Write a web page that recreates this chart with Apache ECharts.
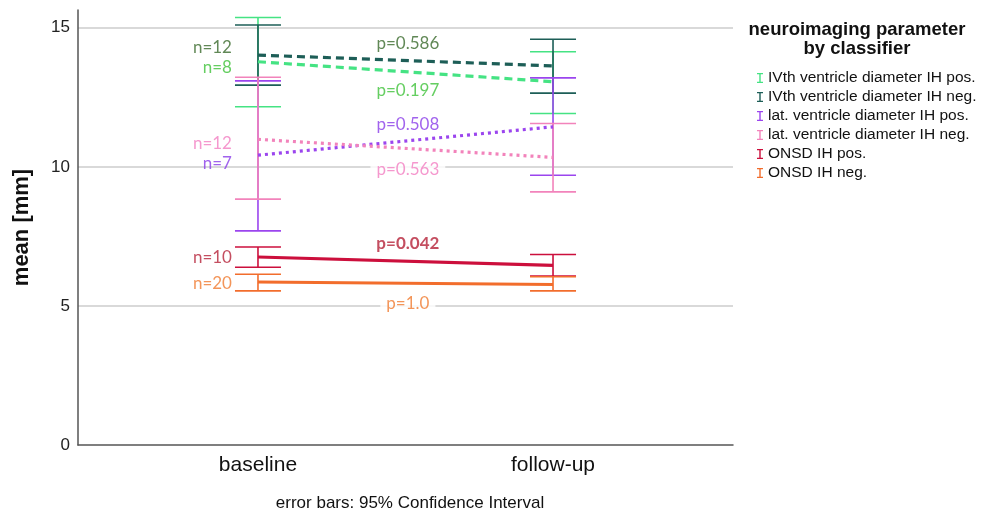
<!DOCTYPE html>
<html><head><meta charset="utf-8">
<script src="https://cdn.jsdelivr.net/npm/echarts@6/dist/echarts.min.js"></script>
<style>html,body{margin:0;padding:0;background:#fff}#c{width:983px;height:513px}</style>
</head><body><div id="c"></div>
<script>
// ---- data ----
const categories = ['baseline', 'follow-up'];
const yTicks = [0, 5, 10, 15];
const seriesNames = ['IVth ventricle diameter IH pos.', 'IVth ventricle diameter IH neg.', 'lat. ventricle diameter IH pos.', 'lat. ventricle diameter IH neg.', 'ONSD IH pos.', 'ONSD IH neg.'];
const ivPosMean = [13.78, 13.06], ivPosLow = [12.16, 11.92], ivPosHigh = [15.37, 14.14];
const ivNegMean = [14.02, 13.63], ivNegLow = [12.94, 12.65], ivNegHigh = [15.10, 14.59];
const latPosMean = [10.42, 11.44], latPosLow = [7.70, 9.70], latPosHigh = [13.09, 13.20];
const latNegMean = [10.99, 10.34], latNegLow = [8.84, 9.10], latNegHigh = [13.22, 11.56];
const onsdPosMean = [6.76, 6.46], onsdPosLow = [6.39, 6.07], onsdPosHigh = [7.12, 6.85];
const onsdNegMean = [5.86, 5.77], onsdNegLow = [5.54, 5.54], onsdNegHigh = [6.14, 6.05];
const nLabels = ['n=8', 'n=12', 'n=7', 'n=12', 'n=10', 'n=20'];
const pLabels = ['p=0.197', 'p=0.586', 'p=0.508', 'p=0.563', 'p=0.042', 'p=1.0'];

// ---- layout / style ----
const nLabelY = [13.56, 14.28, 10.12, 10.84, 6.73, 5.81];
const pLabelY = [12.73, 14.44, 11.53, 9.91, 7.24, 5.09];
const pLabelX = 0.508;
const colors = ['#45e383', '#1d5e57', '#9b45ee', '#f283bb', '#cc0f3c', '#f26d2c'];
const textColors = ['#3fc23a', '#3a6a2c', '#8a3ce8', '#f27ec2', '#b52238', '#f07a30'];
const lineTypes = [[8, 5], [8, 5], [3, 4], [3, 4], 'solid', 'solid'];
const FONT = 'Liberation Sans';
const ANNO_FONT = 'Lato';

const groups = [
  [ivPosMean, ivPosLow, ivPosHigh],
  [ivNegMean, ivNegLow, ivNegHigh],
  [latPosMean, latPosLow, latPosHigh],
  [latNegMean, latNegLow, latNegHigh],
  [onsdPosMean, onsdPosLow, onsdPosHigh],
  [onsdNegMean, onsdNegLow, onsdNegHigh]
];

const iPath = 'path://M0,0 H6 V1.3 H3.7 V8.7 H6 V10 H0 V8.7 H2.3 V1.3 H0 Z';

const series = [];
groups.forEach((g, k) => {
  const [mean, low, high] = g;
  const col = colors[k];
  series.push({
    name: seriesNames[k],
    type: 'custom',
    itemStyle: { color: col },
    z: 2,
    silent: true,
    data: categories.map((c, i) => [i, low[i], high[i]]),
    renderItem: (params, api) => {
      const x = api.value(0);
      const lo = api.coord([x, api.value(1)]);
      const hi = api.coord([x, api.value(2)]);
      const hw = 23;
      const st = { stroke: col, lineWidth: 1.6, fill: null };
      return { type: 'group', children: [
        { type: 'line', shape: { x1: lo[0], y1: lo[1], x2: hi[0], y2: hi[1] }, style: st },
        { type: 'line', shape: { x1: lo[0] - hw, y1: lo[1], x2: lo[0] + hw, y2: lo[1] }, style: st },
        { type: 'line', shape: { x1: hi[0] - hw, y1: hi[1], x2: hi[0] + hw, y2: hi[1] }, style: st }
      ]};
    }
  });
});
groups.forEach((g, k) => {
  const mean = g[0];
  series.push({
    name: seriesNames[k],
    type: 'line',
    z: 3,
    silent: true,
    showSymbol: false,
    symbol: 'none',
    itemStyle: { color: colors[k] },
    lineStyle: { color: colors[k], width: 3.2, type: lineTypes[k], cap: 'butt' },
    data: categories.map((c, i) => [i, mean[i]])
  });
});
// annotations
series.push({
  name: 'nlab', type: 'scatter', symbolSize: 0, silent: true, z: 5,
  data: nLabels.map((t, k) => ({ value: [0, nLabelY[k]], label: { color: textColors[k] } })),
  label: { show: true, position: 'left', distance: 26, fontFamily: ANNO_FONT, fontSize: 17,
    formatter: p => nLabels[p.dataIndex] }
});
series.push({
  name: 'plab', type: 'scatter', symbolSize: 0, silent: true, z: 6,
  data: pLabels.map((t, k) => ({ value: [pLabelX, pLabelY[k]],
    label: { color: textColors[k], fontWeight: k === 4 ? 'bold' : 'normal' } })),
  label: { show: true, position: 'inside', fontFamily: ANNO_FONT, fontSize: 17,
    backgroundColor: '#fff', padding: [0, 6],
    formatter: p => pLabels[p.dataIndex] }
});

const chart = echarts.init(document.getElementById('c'), null, { renderer: 'canvas' });
chart.setOption({
  animation: false,
  backgroundColor: '#fff',
  grid: { left: 78, right: 250, top: 10, bottom: 68, containLabel: false },
  xAxis: {
    type: 'value', min: -0.61, max: 1.61,
    axisLine: { show: true, onZero: false, lineStyle: { color: '#555', width: 1.5 } },
    axisTick: { show: false },
    splitLine: { show: false },
    axisLabel: { customValues: [0, 1], formatter: v => categories[Math.round(v)] || '',
      fontFamily: FONT, fontSize: 21, color: '#111', margin: 10 }
  },
  yAxis: {
    type: 'value', min: 0, max: 15.64, interval: 5,
    name: 'mean [mm]', nameLocation: 'middle', nameGap: 45, nameRotate: 90,
    nameTextStyle: { fontFamily: FONT, fontSize: 22, fontWeight: 'bold', color: '#111' },
    axisLine: { show: true, onZero: false, lineStyle: { color: '#555', width: 1.5 } },
    axisTick: { show: false },
    axisLabel: { fontFamily: FONT, fontSize: 17, color: '#222', margin: 8,
      customValues: yTicks },
    splitLine: { show: true, showMinLine: false, showMaxLine: false, lineStyle: { color: '#cccccc', width: 1.5 } }
  },
  legend: {
    orient: 'vertical', left: 752, top: 65, itemWidth: 6, itemHeight: 10, itemGap: 3,
    icon: iPath, selectedMode: false,
    textStyle: { fontFamily: FONT, fontSize: 15.5, color: '#111', lineHeight: 16 },
    data: seriesNames
  },
  graphic: [
    { type: 'text', x: 857, y: 20, silent: true,
      style: { text: 'neuroimaging parameter\nby classifier', textAlign: 'center', textVerticalAlign: 'top',
        font: 'bold 18.5px "Liberation Sans"', lineHeight: 19, fill: '#111' } },
    { type: 'text', x: 410, y: 503, silent: true,
      style: { text: 'error bars: 95% Confidence Interval', textAlign: 'center', textVerticalAlign: 'middle',
        font: '17px "Liberation Sans"', fill: '#111' } }
  ],
  series: series
});
</script>
</body></html>
